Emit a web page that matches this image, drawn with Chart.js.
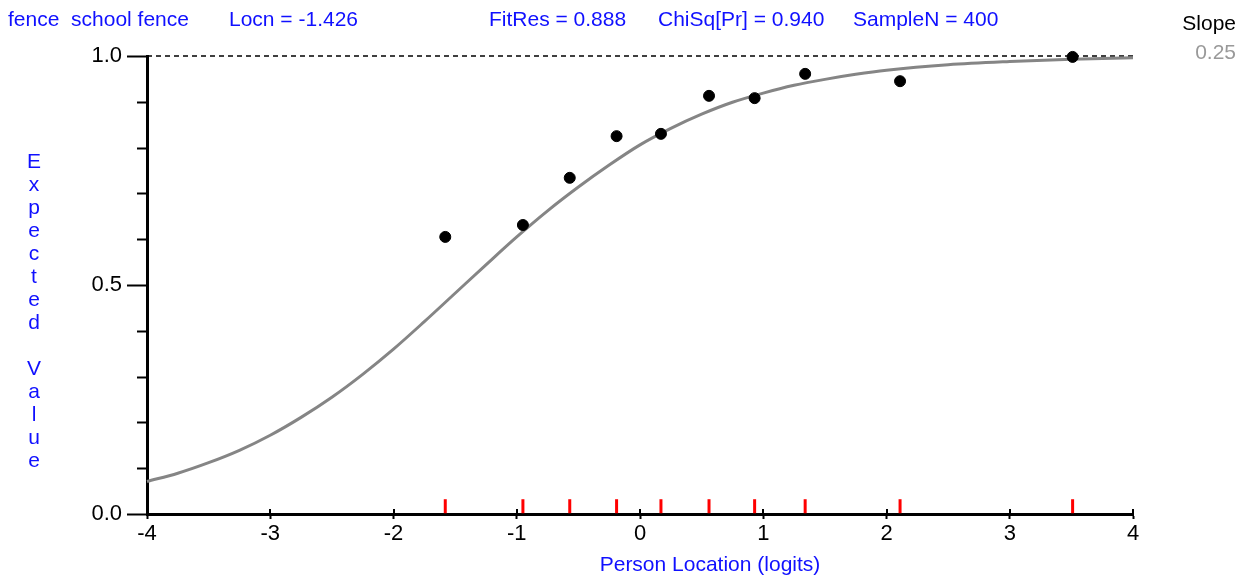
<!DOCTYPE html>
<html>
<head>
<meta charset="utf-8">
<script src="https://cdn.jsdelivr.net/npm/chart.js@4/dist/chart.umd.min.js"></script>
<style>
  html, body { margin:0; padding:0; background:#fff; }
  canvas { display:block; }
</style>
</head>
<body>
<canvas id="icc" width="1250" height="578"></canvas>
<script>
// item characteristic curve — fence / school fence
const curveX = [-4, -3.75, -3.5, -3.25, -3, -2.75, -2.5, -2.25, -2, -1.75, -1.5, -1.25, -1, -0.75, -0.5, -0.25, 0, 0.25, 0.5, 0.75, 1, 1.25, 1.5, 1.75, 2, 2.5, 3, 3.5, 4];
const curveY = [0.071, 0.089, 0.112, 0.139, 0.172, 0.211, 0.255, 0.305, 0.360, 0.420, 0.482, 0.544, 0.605, 0.662, 0.714, 0.762, 0.806, 0.842, 0.873, 0.899, 0.919, 0.936, 0.949, 0.960, 0.969, 0.981, 0.988, 0.993, 0.996];

// observed class interval means
const obsX = [-1.58, -0.95, -0.57, -0.19, 0.17, 0.56, 0.93, 1.34, 2.11, 3.51];
const obsY = [0.605, 0.631, 0.734, 0.825, 0.830, 0.913, 0.908, 0.961, 0.945, 0.998];

const xTicks = [-4, -3, -2, -1, 0, 1, 2, 3, 4];
const yTicks = [0, 0.5, 1];
const yMinor = [0.1, 0.2, 0.3, 0.4, 0.6, 0.7, 0.8, 0.9];

const headerLeft = ['fence  school fence', 'Locn = -1.426'];
const headerMid = ['FitRes = 0.888', 'ChiSq[Pr] = 0.940', 'SampleN = 400'];
const slopeLabel = 'Slope';
const slopeValue = '0.25';
const yTitle = 'Expected Value';
const xTitle = 'Person Location (logits)';

const BLUE = '#1010ff';
const FONT = 'Arial, "Liberation Sans", sans-serif';

const extras = {
  id: 'extras',
  beforeDatasetsDraw(chart) {
    const {ctx, chartArea, scales:{y}} = chart;
    // dashed reference at 1.0
    ctx.save();
    ctx.strokeStyle = '#000';
    ctx.lineWidth = 1.5;
    ctx.setLineDash([5, 4]);
    ctx.beginPath();
    ctx.moveTo(chartArea.left, y.getPixelForValue(1));
    ctx.lineTo(chartArea.right, y.getPixelForValue(1));
    ctx.stroke();
    ctx.restore();
  },
  afterDraw(chart) {
    const {ctx, chartArea, scales:{x, y}} = chart;
    ctx.save();
    ctx.strokeStyle = '#000';
    ctx.lineWidth = 2;
    // minor y ticks
    yMinor.forEach(v => {
      const py = Math.round(y.getPixelForValue(v)) + 0.5;
      ctx.beginPath();
      ctx.moveTo(chartArea.left - 10, py);
      ctx.lineTo(chartArea.left, py);
      ctx.stroke();
    });
    // x ticks poke up through the axis a little
    xTicks.forEach(v => {
      const px = Math.round(x.getPixelForValue(v));
      ctx.beginPath();
      ctx.moveTo(px, chartArea.bottom - 5);
      ctx.lineTo(px, chartArea.bottom);
      ctx.stroke();
    });

    ctx.textBaseline = 'alphabetic';
    ctx.font = '21px ' + FONT;
    ctx.fillStyle = BLUE;
    ctx.textAlign = 'left';
    ctx.fillText(headerLeft[0], 8, 26);
    ctx.fillText(headerLeft[1], 229, 26);
    ctx.fillText(headerMid[0], 489, 26);
    ctx.fillText(headerMid[1], 658, 26);
    ctx.fillText(headerMid[2], 853, 26);

    ctx.textAlign = 'right';
    ctx.fillStyle = '#000';
    ctx.fillText(slopeLabel, 1236, 30);
    ctx.fillStyle = '#999';
    ctx.fillText(slopeValue, 1236, 59);

    // stacked y title
    ctx.fillStyle = BLUE;
    ctx.textAlign = 'center';
    ctx.font = '21px ' + FONT;
    yTitle.split('').forEach((ch, i) => {
      if (ch !== ' ') ctx.fillText(ch, 34, 168 + i * 23);
    });

    // x title (sits right of the plot centre in the original)
    ctx.font = '21px ' + FONT;
    ctx.fillText(xTitle, 710, 571);
    ctx.restore();
  }
};

new Chart(document.getElementById('icc'), {
  type: 'scatter',
  data: {
    datasets: [
      {
        label: 'Expected',
        type: 'line',
        data: curveX.map((v, i) => ({x: v, y: curveY[i]})),
        borderColor: '#858585',
        borderWidth: 3,
        pointRadius: 0,
        cubicInterpolationMode: 'monotone',
        clip: false,
        order: 3
      },
      {
        label: 'Observed',
        data: obsX.map((v, i) => ({x: v, y: obsY[i]})),
        backgroundColor: '#000',
        borderColor: '#000',
        pointRadius: 5.5,
        clip: false,
        order: 1
      },
      {
        label: 'Class intervals',
        data: obsX.map(v => ({x: v, y: 0.017})),
        pointStyle: 'line',
        rotation: 90,
        pointRadius: 7,
        borderColor: '#ff0000',
        borderWidth: 3,
        clip: false,
        order: 2
      }
    ]
  },
  options: {
    responsive: false,
    animation: false,
    events: [],
    layout: {padding: {top: 56, right: 117, left: 0, bottom: 0}},
    plugins: {legend: {display: false}, tooltip: {enabled: false}},
    scales: {
      x: {
        type: 'linear', min: -4, max: 4,
        afterFit: s => { s.height = 64; },
        afterBuildTicks: s => { s.ticks = xTicks.map(v => ({value: v})); },
        ticks: {color: '#000', font: {size: 22, family: FONT}, padding: 2, maxRotation: 0,
                callback: v => String(v)},
        grid: {drawOnChartArea: false, tickLength: 5, tickWidth: 2, tickColor: '#000'},
        border: {display: true, color: '#000', width: 3}
      },
      y: {
        type: 'linear', min: 0, max: 1,
        afterFit: s => { s.width = 147; },
        afterBuildTicks: s => { s.ticks = yTicks.map(v => ({value: v})); },
        ticks: {color: '#000', font: {size: 22, family: FONT}, padding: 5,
                callback: v => Number(v).toFixed(1)},
        grid: {drawOnChartArea: false, tickLength: 20, tickWidth: 2, tickColor: '#000'},
        border: {display: true, color: '#000', width: 3}
      }
    }
  },
  plugins: [extras]
});
</script>
</body>
</html>
